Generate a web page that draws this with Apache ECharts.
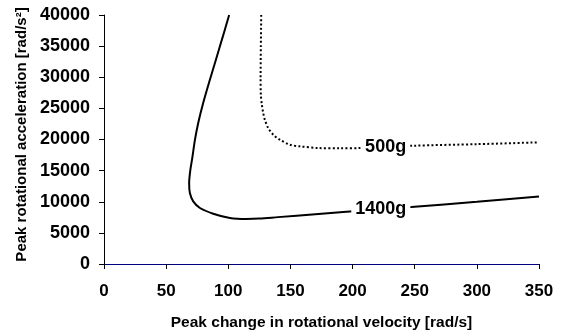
<!DOCTYPE html>
<html>
<head>
<meta charset="utf-8">
<script src="https://cdn.jsdelivr.net/npm/echarts@6/dist/echarts.min.js"></script>
<style>
html,body{margin:0;padding:0;background:#fff;}
#chart{width:564px;height:332px;}
</style>
</head>
<body>
<div id="chart"></div>
<script>
// Data
var xTicks = [0, 50, 100, 150, 200, 250, 300, 350];
var yTicks = [0, 5000, 10000, 15000, 20000, 25000, 30000, 35000, 40000];

var curve1400X = [100.7, 95.4, 90.05, 85.2, 79.8, 75.8, 73.2, 71.0, 69.4, 68.5, 69.1, 71.8, 77.2, 87.9, 101.3, 114.7, 125, 140, 170, 195, 247.3, 300, 350];
var curve1400Y = [40000, 36400, 32819, 29606, 25863, 22651, 19968, 17000, 15000, 13000, 11400, 10056, 8996, 8080, 7390, 7229, 7290, 7530, 8000, 8390, 9157, 10000, 10850];

var curve500X = [126.5, 126.2, 126.0, 126.2, 127.0, 128.1, 129.4, 132.1, 136.2, 141.5, 149.6, 157.6, 172.3, 190, 205.8, 248.7, 300, 350];
var curve500Y = [40000, 35000, 30000, 27200, 25590, 24257, 23180, 21847, 20771, 19968, 19165, 18900, 18630, 18580, 18630, 19000, 19250, 19540];

var labelNames = ['500g', '1400g'];
var labelX = [226.6, 222.7];
var labelY = [18770, 8800];

function pairs(xs, ys) {
  var out = [];
  for (var i = 0; i < xs.length; i++) out.push([xs[i], ys[i]]);
  return out;
}

var FONT = '"Liberation Sans", Arial, Helvetica, sans-serif';
var chart = echarts.init(document.getElementById('chart'), null, {renderer: 'canvas'});

var labelData = [];
for (var i = 0; i < labelNames.length; i++) {
  labelData.push({value: [labelX[i], labelY[i]], name: labelNames[i]});
}

chart.setOption({
  backgroundColor: '#ffffff',
  animation: false,
  grid: {left: 104, right: 25, top: 15, bottom: 68, containLabel: false, outerBoundsMode: 'none'},
  xAxis: {
    type: 'value',
    min: xTicks[0], max: xTicks[xTicks.length - 1], interval: 50,
    name: 'Peak change in rotational velocity [rad/s]',
    nameLocation: 'middle', nameGap: 51,
    nameTextStyle: {fontFamily: FONT, fontWeight: 'bold', fontSize: 15.5, color: '#000'},
    axisLine: {show: true, onZero: false, lineStyle: {color: '#000080', width: 1}},
    axisTick: {show: true, length: 5, inside: false, lineStyle: {color: '#000', width: 1}},
    axisLabel: {fontFamily: FONT, fontWeight: 'bold', fontSize: 17, color: '#000', margin: 19},
    splitLine: {show: false}
  },
  yAxis: {
    type: 'value',
    min: yTicks[0], max: yTicks[yTicks.length - 1], interval: 5000,
    name: 'Peak rotational acceleration [rad/s\u00B2]',
    nameLocation: 'middle', nameGap: 67,
    nameTextStyle: {fontFamily: FONT, fontWeight: 'bold', fontSize: 15, color: '#000', padding: [0, 0, 0, 10]},
    axisLine: {show: true, onZero: false, lineStyle: {color: '#000', width: 1}},
    axisTick: {show: true, length: 5, inside: false, lineStyle: {color: '#000', width: 1}},
    axisLabel: {fontFamily: FONT, fontWeight: 'bold', fontSize: 18, color: '#000', margin: 14,
      formatter: function (v) { return String(v); }},
    splitLine: {show: false}
  },
  series: [
    {
      type: 'line', name: '1400g',
      data: pairs(curve1400X, curve1400Y),
      smooth: 0.3, symbol: 'none',
      lineStyle: {color: '#000', width: 2},
      z: 2
    },
    {
      type: 'line', name: '500g',
      data: pairs(curve500X, curve500Y),
      smooth: 0.3, symbol: 'none',
      lineStyle: {color: '#000', width: 2, type: [2, 2.3]},
      z: 2
    },
    {
      type: 'scatter',
      data: labelData,
      symbolSize: 0,
      itemStyle: {opacity: 1, color: '#000'},
      z: 5,
      label: {
        show: true, position: 'inside',
        formatter: function (p) { return p.name; },
        fontFamily: FONT, fontWeight: 'bold', fontSize: 18, color: '#000', opacity: 1,
        textBorderWidth: 0,
        backgroundColor: '#ffffff', padding: [1, 4, 1, 4]
      }
    }
  ]
});
</script>
</body>
</html>
